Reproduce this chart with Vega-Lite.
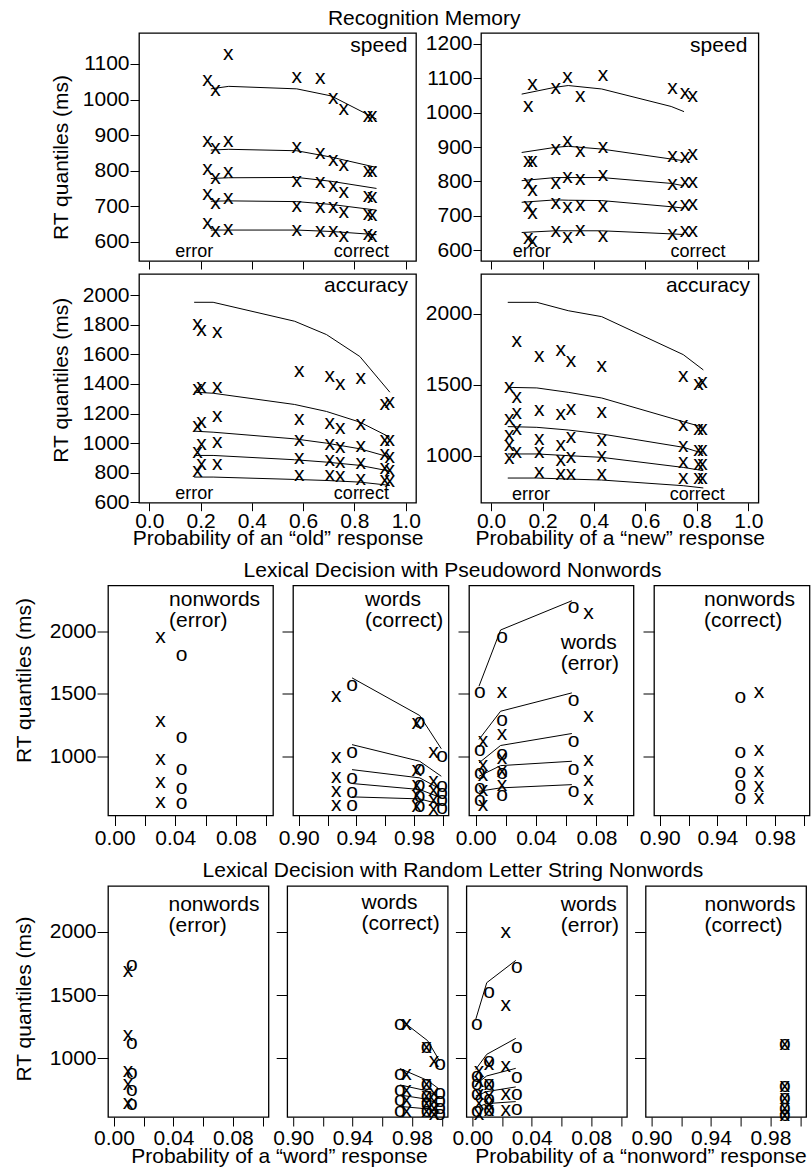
{
"$schema": "https://vega.github.io/schema/vega-lite/v6.json",
"padding": {"left": 12, "top": 8, "right": 0, "bottom": 0},
"config": {
 "font": "Liberation Sans",
 "view": {"stroke": "black", "strokeWidth": 1.3},
 "axis": {"grid": false, "domain": false, "ticks": true, "tickColor": "black", "tickWidth": 1, "labelColor": "black", "labelFontSize": 21, "labelFont": "Liberation Sans", "titleFont": "Liberation Sans", "titleFontSize": 21, "titleFontWeight": "normal", "titleColor": "black", "labelFlush": false, "labelOverlap": false, "labelBound": false, "labelPadding": 1},
 "title": {"font": "Liberation Sans", "fontSize": 21, "fontWeight": "normal", "color": "black"},
 "text": {"font": "Liberation Sans", "color": "black"},
 "line": {"color": "black", "strokeWidth": 1}
},
"datasets": {
 "A_pts": [
  {"p":0.227,"rt":1056},{"p":0.227,"rt":884},{"p":0.227,"rt":805},{"p":0.227,"rt":734},{"p":0.227,"rt":654},
  {"p":0.258,"rt":1027},{"p":0.258,"rt":865},{"p":0.258,"rt":778},{"p":0.258,"rt":708},{"p":0.258,"rt":631},
  {"p":0.308,"rt":1128},{"p":0.308,"rt":882},{"p":0.308,"rt":797},{"p":0.308,"rt":723},{"p":0.308,"rt":637},
  {"p":0.575,"rt":1062},{"p":0.575,"rt":867},{"p":0.575,"rt":772},{"p":0.575,"rt":701},{"p":0.575,"rt":633},
  {"p":0.667,"rt":1060},{"p":0.667,"rt":850},{"p":0.667,"rt":767},{"p":0.667,"rt":699},{"p":0.667,"rt":629},
  {"p":0.717,"rt":1004},{"p":0.717,"rt":831},{"p":0.717,"rt":758},{"p":0.717,"rt":697},{"p":0.717,"rt":631},
  {"p":0.758,"rt":973},{"p":0.758,"rt":817},{"p":0.758,"rt":739},{"p":0.758,"rt":684},{"p":0.758,"rt":617},
  {"p":0.853,"rt":955},{"p":0.853,"rt":798},{"p":0.853,"rt":729},{"p":0.853,"rt":678},{"p":0.853,"rt":622},
  {"p":0.869,"rt":955},{"p":0.869,"rt":798},{"p":0.869,"rt":727},{"p":0.869,"rt":676},{"p":0.869,"rt":615}
 ],
 "A_mod": [
  {"q":9,"p":0.24,"rt":1030},{"q":9,"p":0.31,"rt":1037},{"q":9,"p":0.575,"rt":1030},{"q":9,"p":0.71,"rt":1010},{"q":9,"p":0.886,"rt":945},
  {"q":7,"p":0.24,"rt":858},{"q":7,"p":0.31,"rt":860},{"q":7,"p":0.575,"rt":856},{"q":7,"p":0.71,"rt":838},{"q":7,"p":0.886,"rt":809},
  {"q":5,"p":0.24,"rt":778},{"q":5,"p":0.31,"rt":780},{"q":5,"p":0.575,"rt":781},{"q":5,"p":0.71,"rt":770},{"q":5,"p":0.886,"rt":750},
  {"q":3,"p":0.24,"rt":714},{"q":3,"p":0.31,"rt":715},{"q":3,"p":0.575,"rt":713},{"q":3,"p":0.71,"rt":705},{"q":3,"p":0.886,"rt":689},
  {"q":1,"p":0.24,"rt":633},{"q":1,"p":0.31,"rt":633},{"q":1,"p":0.575,"rt":633},{"q":1,"p":0.71,"rt":629},{"q":1,"p":0.886,"rt":620}
 ],
 "B_pts": [
  {"p":0.145,"rt":1020},{"p":0.145,"rt":858},{"p":0.145,"rt":794},{"p":0.145,"rt":727},{"p":0.145,"rt":634},
  {"p":0.161,"rt":1084},{"p":0.161,"rt":860},{"p":0.161,"rt":775},{"p":0.161,"rt":707},{"p":0.161,"rt":627},
  {"p":0.251,"rt":1072},{"p":0.251,"rt":894},{"p":0.251,"rt":794},{"p":0.251,"rt":736},{"p":0.251,"rt":656},
  {"p":0.297,"rt":1105},{"p":0.297,"rt":918},{"p":0.297,"rt":813},{"p":0.297,"rt":724},{"p":0.297,"rt":637},
  {"p":0.347,"rt":1049},{"p":0.347,"rt":889},{"p":0.347,"rt":807},{"p":0.347,"rt":732},{"p":0.347,"rt":659},
  {"p":0.435,"rt":1111},{"p":0.435,"rt":899},{"p":0.435,"rt":819},{"p":0.435,"rt":729},{"p":0.435,"rt":642},
  {"p":0.705,"rt":1072},{"p":0.705,"rt":875},{"p":0.705,"rt":792},{"p":0.705,"rt":727},{"p":0.705,"rt":648},
  {"p":0.754,"rt":1057},{"p":0.754,"rt":872},{"p":0.754,"rt":797},{"p":0.754,"rt":731},{"p":0.754,"rt":656},
  {"p":0.784,"rt":1049},{"p":0.784,"rt":880},{"p":0.784,"rt":797},{"p":0.784,"rt":734},{"p":0.784,"rt":656}
 ],
 "B_mod": [
  {"q":9,"p":0.119,"rt":1054},{"q":9,"p":0.25,"rt":1074},{"q":9,"p":0.30,"rt":1079},{"q":9,"p":0.43,"rt":1069},{"q":9,"p":0.70,"rt":1018},{"q":9,"p":0.75,"rt":1003},
  {"q":7,"p":0.119,"rt":884},{"q":7,"p":0.25,"rt":899},{"q":7,"p":0.30,"rt":902},{"q":7,"p":0.43,"rt":894},{"q":7,"p":0.70,"rt":865},{"q":7,"p":0.75,"rt":860},
  {"q":5,"p":0.119,"rt":802},{"q":5,"p":0.25,"rt":811},{"q":5,"p":0.30,"rt":811},{"q":5,"p":0.43,"rt":811},{"q":5,"p":0.70,"rt":794},{"q":5,"p":0.75,"rt":787},
  {"q":3,"p":0.119,"rt":739},{"q":3,"p":0.25,"rt":746},{"q":3,"p":0.30,"rt":745},{"q":3,"p":0.43,"rt":744},{"q":3,"p":0.70,"rt":726},{"q":3,"p":0.75,"rt":722},
  {"q":1,"p":0.119,"rt":651},{"q":1,"p":0.25,"rt":656},{"q":1,"p":0.30,"rt":656},{"q":1,"p":0.43,"rt":656},{"q":1,"p":0.70,"rt":647},{"q":1,"p":0.75,"rt":645}
 ],
 "C_pts": [
  {"p":0.188,"rt":1805},{"p":0.188,"rt":1367},{"p":0.188,"rt":1119},{"p":0.188,"rt":939},{"p":0.188,"rt":811},
  {"p":0.204,"rt":1764},{"p":0.204,"rt":1378},{"p":0.204,"rt":1142},{"p":0.204,"rt":996},{"p":0.204,"rt":861},
  {"p":0.265,"rt":1748},{"p":0.265,"rt":1378},{"p":0.265,"rt":1180},{"p":0.265,"rt":1011},{"p":0.265,"rt":861},
  {"p":0.585,"rt":1490},{"p":0.585,"rt":1164},{"p":0.585,"rt":1018},{"p":0.585,"rt":899},{"p":0.585,"rt":782},
  {"p":0.704,"rt":1456},{"p":0.704,"rt":1135},{"p":0.704,"rt":996},{"p":0.704,"rt":888},{"p":0.704,"rt":782},
  {"p":0.745,"rt":1396},{"p":0.745,"rt":1101},{"p":0.745,"rt":973},{"p":0.745,"rt":872},{"p":0.745,"rt":777},
  {"p":0.825,"rt":1438},{"p":0.825,"rt":1131},{"p":0.825,"rt":978},{"p":0.825,"rt":865},{"p":0.825,"rt":760},
  {"p":0.918,"rt":1266},{"p":0.918,"rt":1018},{"p":0.918,"rt":928},{"p":0.918,"rt":831},{"p":0.918,"rt":748},
  {"p":0.938,"rt":1276},{"p":0.938,"rt":1018},{"p":0.938,"rt":905},{"p":0.938,"rt":816},{"p":0.938,"rt":742}
 ],
 "C_mod": [
  {"q":9,"p":0.175,"rt":1951},{"q":9,"p":0.249,"rt":1951},{"q":9,"p":0.567,"rt":1823},{"q":9,"p":0.691,"rt":1733},{"q":9,"p":0.821,"rt":1585},{"q":9,"p":0.938,"rt":1344},
  {"q":7,"p":0.175,"rt":1344},{"q":7,"p":0.249,"rt":1337},{"q":7,"p":0.567,"rt":1261},{"q":7,"p":0.691,"rt":1214},{"q":7,"p":0.821,"rt":1142},{"q":7,"p":0.938,"rt":1040},
  {"q":5,"p":0.175,"rt":1081},{"q":5,"p":0.249,"rt":1074},{"q":5,"p":0.567,"rt":1029},{"q":5,"p":0.691,"rt":1000},{"q":5,"p":0.821,"rt":962},{"q":5,"p":0.938,"rt":905},
  {"q":3,"p":0.175,"rt":917},{"q":3,"p":0.249,"rt":917},{"q":3,"p":0.567,"rt":888},{"q":3,"p":0.691,"rt":872},{"q":3,"p":0.821,"rt":850},{"q":3,"p":0.938,"rt":811},
  {"q":1,"p":0.175,"rt":771},{"q":1,"p":0.249,"rt":771},{"q":1,"p":0.567,"rt":755},{"q":1,"p":0.691,"rt":748},{"q":1,"p":0.821,"rt":737},{"q":1,"p":0.938,"rt":715}
 ],
 "D_pts": [
  {"p":0.071,"rt":1482},{"p":0.071,"rt":1259},{"p":0.071,"rt":1148},{"p":0.071,"rt":1078},{"p":0.071,"rt":981},
  {"p":0.100,"rt":1812},{"p":0.100,"rt":1416},{"p":0.100,"rt":1299},{"p":0.100,"rt":1188},{"p":0.100,"rt":1023},
  {"p":0.187,"rt":1706},{"p":0.187,"rt":1325},{"p":0.187,"rt":1118},{"p":0.187,"rt":1028},{"p":0.187,"rt":882},
  {"p":0.271,"rt":1748},{"p":0.271,"rt":1294},{"p":0.271,"rt":1076},{"p":0.271,"rt":972},{"p":0.271,"rt":871},
  {"p":0.311,"rt":1670},{"p":0.311,"rt":1330},{"p":0.311,"rt":1129},{"p":0.311,"rt":988},{"p":0.311,"rt":871},
  {"p":0.430,"rt":1635},{"p":0.430,"rt":1311},{"p":0.430,"rt":1113},{"p":0.430,"rt":1000},{"p":0.430,"rt":871},
  {"p":0.747,"rt":1565},{"p":0.747,"rt":1219},{"p":0.747,"rt":1066},{"p":0.747,"rt":953},{"p":0.747,"rt":840},
  {"p":0.806,"rt":1506},{"p":0.806,"rt":1188},{"p":0.806,"rt":1040},{"p":0.806,"rt":941},{"p":0.806,"rt":840},
  {"p":0.822,"rt":1522},{"p":0.822,"rt":1188},{"p":0.822,"rt":1040},{"p":0.822,"rt":941},{"p":0.822,"rt":840}
 ],
 "D_mod": [
  {"q":9,"p":0.065,"rt":2082},{"q":9,"p":0.178,"rt":2082},{"q":9,"p":0.30,"rt":2023},{"q":9,"p":0.43,"rt":1981},{"q":9,"p":0.747,"rt":1713},{"q":9,"p":0.825,"rt":1605},
  {"q":7,"p":0.065,"rt":1482},{"q":7,"p":0.178,"rt":1478},{"q":7,"p":0.30,"rt":1447},{"q":7,"p":0.43,"rt":1407},{"q":7,"p":0.747,"rt":1240},{"q":7,"p":0.825,"rt":1200},
  {"q":5,"p":0.065,"rt":1205},{"q":5,"p":0.178,"rt":1200},{"q":5,"p":0.30,"rt":1181},{"q":5,"p":0.43,"rt":1153},{"q":5,"p":0.747,"rt":1059},{"q":5,"p":0.825,"rt":1016},
  {"q":3,"p":0.065,"rt":1012},{"q":3,"p":0.178,"rt":1012},{"q":3,"p":0.30,"rt":1000},{"q":3,"p":0.43,"rt":988},{"q":3,"p":0.747,"rt":917},{"q":3,"p":0.825,"rt":894},
  {"q":1,"p":0.065,"rt":842},{"q":1,"p":0.178,"rt":842},{"q":1,"p":0.30,"rt":835},{"q":1,"p":0.43,"rt":828},{"q":1,"p":0.747,"rt":788},{"q":1,"p":0.825,"rt":772}
 ],
 "M1_pts": [
  {"s":"x","p":0.0303,"rt":1952},{"s":"x","p":0.0303,"rt":1280},{"s":"x","p":0.0303,"rt":982},{"s":"x","p":0.0303,"rt":792},{"s":"x","p":0.0303,"rt":632},
  {"s":"o","p":0.0442,"rt":1814},{"s":"o","p":0.0442,"rt":1152},{"s":"o","p":0.0442,"rt":899},{"s":"o","p":0.0442,"rt":747},{"s":"o","p":0.0442,"rt":627}
 ],
 "M2_pts": [
  {"s":"x","p":0.926,"rt":1480},{"s":"x","p":0.926,"rt":995},{"s":"x","p":0.926,"rt":835},{"s":"x","p":0.926,"rt":720},{"s":"x","p":0.926,"rt":614},
  {"s":"x","p":0.982,"rt":1267},{"s":"x","p":0.982,"rt":888},{"s":"x","p":0.982,"rt":774},{"s":"x","p":0.982,"rt":690},{"s":"x","p":0.982,"rt":600},
  {"s":"x","p":0.9936,"rt":1032},{"s":"x","p":0.9936,"rt":800},{"s":"x","p":0.9936,"rt":734},{"s":"x","p":0.9936,"rt":654},{"s":"x","p":0.9936,"rt":579},
  {"s":"o","p":0.937,"rt":1568},{"s":"o","p":0.937,"rt":1032},{"s":"o","p":0.937,"rt":827},{"s":"o","p":0.937,"rt":715},{"s":"o","p":0.937,"rt":614},
  {"s":"o","p":0.984,"rt":1275},{"s":"o","p":0.984,"rt":900},{"s":"o","p":0.984,"rt":770},{"s":"o","p":0.984,"rt":680},{"s":"o","p":0.984,"rt":600},
  {"s":"o","p":0.9995,"rt":1000},{"s":"o","p":0.9995,"rt":760},{"s":"o","p":0.9995,"rt":707},{"s":"o","p":0.9995,"rt":654},{"s":"o","p":0.9995,"rt":587}
 ],
 "M2_mod": [
  {"q":9,"p":0.937,"rt":1627},{"q":9,"p":0.984,"rt":1326},{"q":9,"p":0.999,"rt":1060},
  {"q":7,"p":0.937,"rt":1093},{"q":7,"p":0.984,"rt":960},{"q":7,"p":0.999,"rt":840},
  {"q":5,"p":0.937,"rt":893},{"q":5,"p":0.984,"rt":827},{"q":5,"p":0.999,"rt":734},
  {"q":3,"p":0.937,"rt":782},{"q":3,"p":0.984,"rt":734},{"q":3,"p":0.999,"rt":667},
  {"q":1,"p":0.937,"rt":675},{"q":1,"p":0.984,"rt":659},{"q":1,"p":0.999,"rt":614}
 ],
 "M3_pts": [
  {"s":"x","p":0.0048,"rt":1120},{"s":"x","p":0.0048,"rt":934},{"s":"x","p":0.0048,"rt":854},{"s":"x","p":0.0048,"rt":734},{"s":"x","p":0.0048,"rt":614},
  {"s":"x","p":0.0175,"rt":1512},{"s":"x","p":0.0175,"rt":1180},{"s":"x","p":0.0175,"rt":985},{"s":"x","p":0.0175,"rt":880},{"s":"x","p":0.0175,"rt":770},
  {"s":"x","p":0.0747,"rt":2147},{"s":"x","p":0.0747,"rt":1320},{"s":"x","p":0.0747,"rt":973},{"s":"x","p":0.0747,"rt":814},{"s":"x","p":0.0747,"rt":659},
  {"s":"o","p":0.0028,"rt":1512},{"s":"o","p":0.0028,"rt":1048},{"s":"o","p":0.0028,"rt":867},{"s":"o","p":0.0028,"rt":747},{"s":"o","p":0.0028,"rt":654},
  {"s":"o","p":0.0175,"rt":1952},{"s":"o","p":0.0175,"rt":1294},{"s":"o","p":0.0175,"rt":1022},{"s":"o","p":0.0175,"rt":867},{"s":"o","p":0.0175,"rt":694},
  {"s":"o","p":0.0648,"rt":2195},{"s":"o","p":0.0648,"rt":1454},{"s":"o","p":0.0648,"rt":1120},{"s":"o","p":0.0648,"rt":899},{"s":"o","p":0.0648,"rt":720}
 ],
 "M3_mod": [
  {"q":9,"p":0.0022,"rt":1560},{"q":9,"p":0.0165,"rt":2010},{"q":9,"p":0.0637,"rt":2244},
  {"q":7,"p":0.0022,"rt":1134},{"q":7,"p":0.0165,"rt":1360},{"q":7,"p":0.0637,"rt":1507},
  {"q":5,"p":0.0022,"rt":947},{"q":5,"p":0.0165,"rt":1086},{"q":5,"p":0.0637,"rt":1182},
  {"q":3,"p":0.0022,"rt":840},{"q":3,"p":0.0165,"rt":925},{"q":3,"p":0.0637,"rt":960},
  {"q":1,"p":0.0022,"rt":720},{"q":1,"p":0.0165,"rt":747},{"q":1,"p":0.0637,"rt":773}
 ],
 "M4_pts": [
  {"s":"o","p":0.956,"rt":1472},{"s":"o","p":0.956,"rt":1032},{"s":"o","p":0.956,"rt":872},{"s":"o","p":0.956,"rt":774},{"s":"o","p":0.956,"rt":667},
  {"s":"x","p":0.969,"rt":1512},{"s":"x","p":0.969,"rt":1054},{"s":"x","p":0.969,"rt":880},{"s":"x","p":0.969,"rt":760},{"s":"x","p":0.969,"rt":667}
 ],
 "B1_pts": [
  {"s":"x","p":0.0094,"rt":1691},{"s":"x","p":0.0094,"rt":1185},{"s":"x","p":0.0094,"rt":900},{"s":"x","p":0.0094,"rt":794},{"s":"x","p":0.0094,"rt":650},
  {"s":"o","p":0.0121,"rt":1736},{"s":"o","p":0.0121,"rt":1124},{"s":"o","p":0.0121,"rt":887},{"s":"o","p":0.0121,"rt":747},{"s":"o","p":0.0121,"rt":636}
 ],
 "B2_pts": [
  {"s":"x","p":0.9763,"rt":1269},{"s":"x","p":0.9763,"rt":873},{"s":"x","p":0.9763,"rt":747},{"s":"x","p":0.9763,"rt":668},{"s":"x","p":0.9763,"rt":584},
  {"s":"x","p":0.9898,"rt":1090},{"s":"x","p":0.9898,"rt":794},{"s":"x","p":0.9898,"rt":702},{"s":"x","p":0.9898,"rt":650},{"s":"x","p":0.9898,"rt":584},
  {"s":"x","p":0.9947,"rt":979},{"s":"x","p":0.9947,"rt":727},{"s":"x","p":0.9947,"rt":663},{"s":"x","p":0.9947,"rt":610},{"s":"x","p":0.9947,"rt":557},
  {"s":"o","p":0.9718,"rt":1269},{"s":"o","p":0.9718,"rt":873},{"s":"o","p":0.9718,"rt":747},{"s":"o","p":0.9718,"rt":668},{"s":"o","p":0.9718,"rt":584},
  {"s":"o","p":0.9898,"rt":1090},{"s":"o","p":0.9898,"rt":794},{"s":"o","p":0.9898,"rt":702},{"s":"o","p":0.9898,"rt":650},{"s":"o","p":0.9898,"rt":584},
  {"s":"o","p":0.9988,"rt":953},{"s":"o","p":0.9988,"rt":727},{"s":"o","p":0.9988,"rt":663},{"s":"o","p":0.9988,"rt":610},{"s":"o","p":0.9988,"rt":557}
 ],
 "B2_mod": [
  {"q":9,"p":0.9718,"rt":1310},{"q":9,"p":0.9905,"rt":1140},{"q":9,"p":0.9985,"rt":980},
  {"q":7,"p":0.9718,"rt":920},{"q":7,"p":0.9905,"rt":825},{"q":7,"p":0.9985,"rt":755},
  {"q":5,"p":0.9718,"rt":790},{"q":5,"p":0.9905,"rt":742},{"q":5,"p":0.9985,"rt":689},
  {"q":3,"p":0.9718,"rt":710},{"q":3,"p":0.9905,"rt":676},{"q":3,"p":0.9985,"rt":636},
  {"q":1,"p":0.9718,"rt":620},{"q":1,"p":0.9905,"rt":600},{"q":1,"p":0.9985,"rt":575}
 ],
 "B3_pts": [
  {"s":"x","p":0.0045,"rt":900},{"s":"x","p":0.0045,"rt":821},{"s":"x","p":0.0045,"rt":720},{"s":"x","p":0.0045,"rt":650},{"s":"x","p":0.0045,"rt":560},
  {"s":"x","p":0.0112,"rt":953},{"s":"x","p":0.0112,"rt":800},{"s":"x","p":0.0112,"rt":700},{"s":"x","p":0.0112,"rt":640},{"s":"x","p":0.0112,"rt":590},
  {"s":"x","p":0.0225,"rt":2002},{"s":"x","p":0.0225,"rt":1422},{"s":"x","p":0.0225,"rt":940},{"s":"x","p":0.0225,"rt":715},{"s":"x","p":0.0225,"rt":589},
  {"s":"o","p":0.003,"rt":1269},{"s":"o","p":0.003,"rt":861},{"s":"o","p":0.003,"rt":794},{"s":"o","p":0.003,"rt":715},{"s":"o","p":0.003,"rt":584},
  {"s":"o","p":0.0112,"rt":1528},{"s":"o","p":0.0112,"rt":979},{"s":"o","p":0.0112,"rt":794},{"s":"o","p":0.0112,"rt":676},{"s":"o","p":0.0112,"rt":589},
  {"s":"o","p":0.0299,"rt":1725},{"s":"o","p":0.0299,"rt":1090},{"s":"o","p":0.0299,"rt":853},{"s":"o","p":0.0299,"rt":715},{"s":"o","p":0.0299,"rt":597}
 ],
 "B3_mod": [
  {"q":9,"p":0.0023,"rt":1309},{"q":9,"p":0.0097,"rt":1599},{"q":9,"p":0.0292,"rt":1775},
  {"q":7,"p":0.0023,"rt":913},{"q":7,"p":0.0097,"rt":1032},{"q":7,"p":0.0292,"rt":1158},
  {"q":5,"p":0.0023,"rt":794},{"q":5,"p":0.0097,"rt":861},{"q":5,"p":0.0292,"rt":921},
  {"q":3,"p":0.0023,"rt":702},{"q":3,"p":0.0097,"rt":737},{"q":3,"p":0.0292,"rt":774},
  {"q":1,"p":0.0023,"rt":610},{"q":1,"p":0.0097,"rt":642},{"q":1,"p":0.0292,"rt":658}
 ],
 "B4_pts": [
  {"s":"x","p":0.9897,"rt":1111},{"s":"x","p":0.9897,"rt":782},{"s":"x","p":0.9897,"rt":689},{"s":"x","p":0.9897,"rt":610},{"s":"x","p":0.9897,"rt":552},
  {"s":"o","p":0.9897,"rt":1111},{"s":"o","p":0.9897,"rt":782},{"s":"o","p":0.9897,"rt":689},{"s":"o","p":0.9897,"rt":610},{"s":"o","p":0.9897,"rt":552}
 ]
},
"spacing": 10.5,
"vconcat": [
 {"spacing": 0, "bounds": "flush", "hconcat": [
  {"width": 30.3, "height": 10, "view": {"stroke": null}, "data": {"values": [{"p": 0}]}, "mark": {"type": "point", "opacity": 0}, "encoding": {}},
  {"title": {"text": "Recognition Memory", "offset": 3.3, "anchor": "middle", "dx": 17},
   "columns": 2, "bounds": "flush", "spacing": {"row": 13, "column": 65},
   "concat": [
    {"width": 277, "height": 228,
     "encoding": {
      "x": {"field": "p", "type": "quantitative", "scale": {"domain": [-0.04, 1.04], "nice": false, "zero": false}, "axis": {"values": [0,0.2,0.4,0.6,0.8,1], "labels": false, "title": null, "tickSize": 8}},
      "y": {"field": "rt", "type": "quantitative", "scale": {"domain": [546, 1187], "nice": false, "zero": false}, "axis": {"values": [600,700,800,900,1000,1100], "format": "d", "title": "RT quantiles (ms)", "titleX": -68, "titleY": 124, "tickSize": 9}}
     },
     "layer": [
      {"data": {"name": "A_mod"}, "mark": {"type": "line", "color": "black", "strokeWidth": 1}, "encoding": {"detail": {"field": "q"}}},
      {"data": {"name": "A_pts"}, "mark": {"type": "text", "text": "x", "fontSize": 21, "baseline": "middle", "align": "center"}},
      {"data": {"values": [{"p": 1.007, "rt": 1133, "t": "speed"}]}, "mark": {"type": "text", "fontSize": 21, "align": "right", "baseline": "alphabetic"}, "encoding": {"text": {"field": "t"}}},
      {"data": {"values": [{"p": 0.175, "rt": 556, "t": "error"}, {"p": 0.827, "rt": 556, "t": "correct"}]}, "mark": {"type": "text", "fontSize": 18, "align": "center", "baseline": "alphabetic"}, "encoding": {"text": {"field": "t"}}}
     ]},
    {"width": 277.4, "height": 228,
     "encoding": {
      "x": {"field": "p", "type": "quantitative", "scale": {"domain": [-0.039, 1.039], "nice": false, "zero": false}, "axis": {"values": [0,0.2,0.4,0.6,0.8,1], "labels": false, "title": null, "tickSize": 8}},
      "y": {"field": "rt", "type": "quantitative", "scale": {"domain": [568, 1232], "nice": false, "zero": false}, "axis": {"values": [600,700,800,900,1000,1100,1200], "format": "d", "title": null, "tickSize": 8}}
     },
     "layer": [
      {"data": {"name": "B_mod"}, "mark": {"type": "line", "color": "black", "strokeWidth": 1}, "encoding": {"detail": {"field": "q"}}},
      {"data": {"name": "B_pts"}, "mark": {"type": "text", "text": "x", "fontSize": 21, "baseline": "middle", "align": "center"}},
      {"data": {"values": [{"p": 0.996, "rt": 1176, "t": "speed"}]}, "mark": {"type": "text", "fontSize": 21, "align": "right", "baseline": "alphabetic"}, "encoding": {"text": {"field": "t"}}},
      {"data": {"values": [{"p": 0.158, "rt": 580, "t": "error"}, {"p": 0.804, "rt": 580, "t": "correct"}]}, "mark": {"type": "text", "fontSize": 18, "align": "center", "baseline": "alphabetic"}, "encoding": {"text": {"field": "t"}}}
     ]},
    {"width": 277, "height": 228.7,
     "encoding": {
      "x": {"field": "p", "type": "quantitative", "scale": {"domain": [-0.04, 1.04], "nice": false, "zero": false}, "axis": {"values": [0,0.2,0.4,0.6,0.8,1], "format": ".1f", "title": "Probability of an “old” response", "titleY": 24.3, "tickSize": 8, "labelPadding": 0}},
      "y": {"field": "rt", "type": "quantitative", "scale": {"domain": [598, 2142], "nice": false, "zero": false}, "axis": {"values": [600,800,1000,1200,1400,1600,1800,2000], "format": "d", "title": "RT quantiles (ms)", "titleX": -68, "titleY": 105.7, "tickSize": 9}}
     },
     "layer": [
      {"data": {"name": "C_mod"}, "mark": {"type": "line", "color": "black", "strokeWidth": 1}, "encoding": {"detail": {"field": "q"}}},
      {"data": {"name": "C_pts"}, "mark": {"type": "text", "text": "x", "fontSize": 21, "baseline": "middle", "align": "center"}},
      {"data": {"values": [{"p": 1.009, "rt": 2023, "t": "accuracy"}]}, "mark": {"type": "text", "fontSize": 21, "align": "right", "baseline": "alphabetic"}, "encoding": {"text": {"field": "t"}}},
      {"data": {"values": [{"p": 0.175, "rt": 625, "t": "error"}, {"p": 0.827, "rt": 625, "t": "correct"}]}, "mark": {"type": "text", "fontSize": 18, "align": "center", "baseline": "alphabetic"}, "encoding": {"text": {"field": "t"}}}
     ]},
    {"width": 277.4, "height": 228.7,
     "encoding": {
      "x": {"field": "p", "type": "quantitative", "scale": {"domain": [-0.039, 1.039], "nice": false, "zero": false}, "axis": {"values": [0,0.2,0.4,0.6,0.8,1], "format": ".1f", "title": "Probability of a “new” response", "titleY": 24.3, "tickSize": 8, "labelPadding": 0}},
      "y": {"field": "rt", "type": "quantitative", "scale": {"domain": [668, 2282], "nice": false, "zero": false}, "axis": {"values": [1000,1500,2000], "format": "d", "title": null, "tickSize": 8}}
     },
     "layer": [
      {"data": {"name": "D_mod"}, "mark": {"type": "line", "color": "black", "strokeWidth": 1}, "encoding": {"detail": {"field": "q"}}},
      {"data": {"name": "D_pts"}, "mark": {"type": "text", "text": "x", "fontSize": 21, "baseline": "middle", "align": "center"}},
      {"data": {"values": [{"p": 1.006, "rt": 2157, "t": "accuracy"}]}, "mark": {"type": "text", "fontSize": 21, "align": "right", "baseline": "alphabetic"}, "encoding": {"text": {"field": "t"}}},
      {"data": {"values": [{"p": 0.155, "rt": 689, "t": "error"}, {"p": 0.801, "rt": 689, "t": "correct"}]}, "mark": {"type": "text", "fontSize": 18, "align": "center", "baseline": "alphabetic"}, "encoding": {"text": {"field": "t"}}}
     ]}
   ]}
 ]},
 {"title": {"text": "Lexical Decision with Pseudoword Nonwords", "offset": 3.7, "anchor": "middle", "dx": 41},
  "bounds": "flush", "spacing": 20,
  "hconcat": [
   {"width": 165, "height": 230,
    "encoding": {
     "x": {"field": "p", "type": "quantitative", "scale": {"domain": [-0.0044, 0.1045], "nice": false, "zero": false}, "axis": {"values": [0,0.02,0.04,0.06,0.08,0.1], "labelExpr": "indexof([0,4,8], round(datum.value*100)) >= 0 ? format(datum.value, '.2f') : ''", "title": null, "tickSize": 10, "labelPadding": 2}},
     "y": {"field": "rt", "type": "quantitative", "scale": {"domain": [526, 2366], "nice": false, "zero": false}, "axis": {"values": [1000,1500,2000], "format": "d", "title": "RT quantiles (ms)", "titleX": -73.4, "titleY": 94.5, "tickSize": 11}}
    },
    "layer": [
     {"data": {"name": "M1_pts"}, "mark": {"type": "text", "fontSize": 21, "baseline": "middle", "align": "center"}, "encoding": {"text": {"field": "s"}}},
     {"data": {"values": [{"p": 0.0359, "rt": 2200, "t": "nonwords\n(error)"}]}, "mark": {"type": "text", "fontSize": 21, "lineHeight": 21, "lineBreak": "\n", "align": "left", "baseline": "alphabetic"}, "encoding": {"text": {"field": "t"}}}
    ]},
   {"width": 155.5, "height": 230,
    "encoding": {
     "x": {"field": "p", "type": "quantitative", "scale": {"domain": [0.896, 1.004], "nice": false, "zero": false}, "axis": {"values": [0.9,0.92,0.94,0.96,0.98,1], "labelExpr": "indexof([90,94,98], round(datum.value*100)) >= 0 ? format(datum.value, '.2f') : ''", "title": null, "tickSize": 10, "labelPadding": 2}},
     "y": {"field": "rt", "type": "quantitative", "scale": {"domain": [526, 2366], "nice": false, "zero": false}, "axis": {"values": [1000,1500,2000], "labels": false, "title": null, "tickSize": 11}}
    },
    "layer": [
     {"data": {"name": "M2_mod"}, "mark": {"type": "line", "color": "black", "strokeWidth": 1}, "encoding": {"detail": {"field": "q"}}},
     {"data": {"name": "M2_pts"}, "mark": {"type": "text", "fontSize": 21, "baseline": "middle", "align": "center"}, "encoding": {"text": {"field": "s"}}},
     {"data": {"values": [{"p": 0.946, "rt": 2200, "t": "words\n(correct)"}]}, "mark": {"type": "text", "fontSize": 21, "lineHeight": 21, "lineBreak": "\n", "align": "left", "baseline": "alphabetic"}, "encoding": {"text": {"field": "t"}}}
    ]},
   {"width": 164.5, "height": 230,
    "encoding": {
     "x": {"field": "p", "type": "quantitative", "scale": {"domain": [-0.0044, 0.1045], "nice": false, "zero": false}, "axis": {"values": [0,0.02,0.04,0.06,0.08,0.1], "labelExpr": "indexof([0,4,8], round(datum.value*100)) >= 0 ? format(datum.value, '.2f') : ''", "title": null, "tickSize": 10, "labelPadding": 2}},
     "y": {"field": "rt", "type": "quantitative", "scale": {"domain": [526, 2366], "nice": false, "zero": false}, "axis": {"values": [1000,1500,2000], "labels": false, "title": null, "tickSize": 11}}
    },
    "layer": [
     {"data": {"name": "M3_mod"}, "mark": {"type": "line", "color": "black", "strokeWidth": 1}, "encoding": {"detail": {"field": "q"}}},
     {"data": {"name": "M3_pts"}, "mark": {"type": "text", "fontSize": 21, "baseline": "middle", "align": "center"}, "encoding": {"text": {"field": "s"}}},
     {"data": {"values": [{"p": 0.0563, "rt": 1859, "t": "words\n(error)"}]}, "mark": {"type": "text", "fontSize": 21, "lineHeight": 21, "lineBreak": "\n", "align": "left", "baseline": "alphabetic"}, "encoding": {"text": {"field": "t"}}}
    ]},
   {"width": 155.5, "height": 230,
    "encoding": {
     "x": {"field": "p", "type": "quantitative", "scale": {"domain": [0.896, 1.004], "nice": false, "zero": false}, "axis": {"values": [0.9,0.92,0.94,0.96,0.98,1], "labelExpr": "indexof([90,94,98], round(datum.value*100)) >= 0 ? format(datum.value, '.2f') : ''", "title": null, "tickSize": 10, "labelPadding": 2}},
     "y": {"field": "rt", "type": "quantitative", "scale": {"domain": [526, 2366], "nice": false, "zero": false}, "axis": {"values": [1000,1500,2000], "labels": false, "title": null, "tickSize": 11}}
    },
    "layer": [
     {"data": {"name": "M4_pts"}, "mark": {"type": "text", "fontSize": 21, "baseline": "middle", "align": "center"}, "encoding": {"text": {"field": "s"}}},
     {"data": {"values": [{"p": 0.9307, "rt": 2200, "t": "nonwords\n(correct)"}]}, "mark": {"type": "text", "fontSize": 21, "lineHeight": 21, "lineBreak": "\n", "align": "left", "baseline": "alphabetic"}, "encoding": {"text": {"field": "t"}}}
    ]}
  ]},
 {"title": {"text": "Lexical Decision with Random Letter String Nonwords", "offset": 4.3, "anchor": "middle", "dx": 43},
  "bounds": "flush", "spacing": 18.2,
  "hconcat": [
   {"width": 160.5, "height": 231,
    "encoding": {
     "x": {"field": "p", "type": "quantitative", "scale": {"domain": [-0.004, 0.104], "nice": false, "zero": false}, "axis": {"values": [0,0.02,0.04,0.06,0.08,0.1], "labelExpr": "indexof([0,4,8], round(datum.value*100)) >= 0 ? format(datum.value, '.2f') : ''", "title": "Probability of a “word” response", "titleX": 171, "titleY": 28.7, "tickSize": 9, "labelPadding": 1.5}},
     "y": {"field": "rt", "type": "quantitative", "scale": {"domain": [536, 2364], "nice": false, "zero": false}, "axis": {"values": [1000,1500,2000], "format": "d", "title": "RT quantiles (ms)", "titleX": -73.4, "titleY": 112.5, "tickSize": 11}}
    },
    "layer": [
     {"data": {"name": "B1_pts"}, "mark": {"type": "text", "fontSize": 21, "baseline": "middle", "align": "center"}, "encoding": {"text": {"field": "s"}}},
     {"data": {"values": [{"p": 0.0367, "rt": 2166, "t": "nonwords\n(error)"}]}, "mark": {"type": "text", "fontSize": 21, "lineHeight": 21, "lineBreak": "\n", "align": "left", "baseline": "alphabetic"}, "encoding": {"text": {"field": "t"}}}
    ]},
   {"width": 160.5, "height": 231,
    "encoding": {
     "x": {"field": "p", "type": "quantitative", "scale": {"domain": [0.896, 1.004], "nice": false, "zero": false}, "axis": {"values": [0.9,0.92,0.94,0.96,0.98,1], "labelExpr": "indexof([90,94,98], round(datum.value*100)) >= 0 ? format(datum.value, '.2f') : ''", "title": null, "tickSize": 9, "labelPadding": 1.5}},
     "y": {"field": "rt", "type": "quantitative", "scale": {"domain": [536, 2364], "nice": false, "zero": false}, "axis": {"values": [1000,1500,2000], "labels": false, "title": null, "tickSize": 11}}
    },
    "layer": [
     {"data": {"name": "B2_mod"}, "mark": {"type": "line", "color": "black", "strokeWidth": 1}, "encoding": {"detail": {"field": "q"}}},
     {"data": {"name": "B2_pts"}, "mark": {"type": "text", "fontSize": 21, "baseline": "middle", "align": "center"}, "encoding": {"text": {"field": "s"}}},
     {"data": {"values": [{"p": 0.946, "rt": 2179, "t": "words\n(correct)"}]}, "mark": {"type": "text", "fontSize": 21, "lineHeight": 21, "lineBreak": "\n", "align": "left", "baseline": "alphabetic"}, "encoding": {"text": {"field": "t"}}}
    ]},
   {"width": 160.5, "height": 231,
    "encoding": {
     "x": {"field": "p", "type": "quantitative", "scale": {"domain": [-0.004, 0.104], "nice": false, "zero": false}, "axis": {"values": [0,0.02,0.04,0.06,0.08,0.1], "labelExpr": "indexof([0,4,8], round(datum.value*100)) >= 0 ? format(datum.value, '.2f') : ''", "title": "Probability of a “nonword” response", "titleX": 174, "titleY": 28.7, "tickSize": 9, "labelPadding": 1.5}},
     "y": {"field": "rt", "type": "quantitative", "scale": {"domain": [536, 2364], "nice": false, "zero": false}, "axis": {"values": [1000,1500,2000], "labels": false, "title": null, "tickSize": 11}}
    },
    "layer": [
     {"data": {"name": "B3_mod"}, "mark": {"type": "line", "color": "black", "strokeWidth": 1}, "encoding": {"detail": {"field": "q"}}},
     {"data": {"name": "B3_pts"}, "mark": {"type": "text", "fontSize": 21, "baseline": "middle", "align": "center"}, "encoding": {"text": {"field": "s"}}},
     {"data": {"values": [{"p": 0.0595, "rt": 2166, "t": "words\n(error)"}]}, "mark": {"type": "text", "fontSize": 21, "lineHeight": 21, "lineBreak": "\n", "align": "left", "baseline": "alphabetic"}, "encoding": {"text": {"field": "t"}}}
    ]},
   {"width": 160.5, "height": 231,
    "encoding": {
     "x": {"field": "p", "type": "quantitative", "scale": {"domain": [0.896, 1.004], "nice": false, "zero": false}, "axis": {"values": [0.9,0.92,0.94,0.96,0.98,1], "labelExpr": "indexof([90,94,98], round(datum.value*100)) >= 0 ? format(datum.value, '.2f') : ''", "title": null, "tickSize": 9, "labelPadding": 1.5}},
     "y": {"field": "rt", "type": "quantitative", "scale": {"domain": [536, 2364], "nice": false, "zero": false}, "axis": {"values": [1000,1500,2000], "labels": false, "title": null, "tickSize": 11}}
    },
    "layer": [
     {"data": {"name": "B4_pts"}, "mark": {"type": "text", "fontSize": 21, "baseline": "middle", "align": "center"}, "encoding": {"text": {"field": "s"}}},
     {"data": {"values": [{"p": 0.9356, "rt": 2166, "t": "nonwords\n(correct)"}]}, "mark": {"type": "text", "fontSize": 21, "lineHeight": 21, "lineBreak": "\n", "align": "left", "baseline": "alphabetic"}, "encoding": {"text": {"field": "t"}}}
    ]}
  ]}
]
}
